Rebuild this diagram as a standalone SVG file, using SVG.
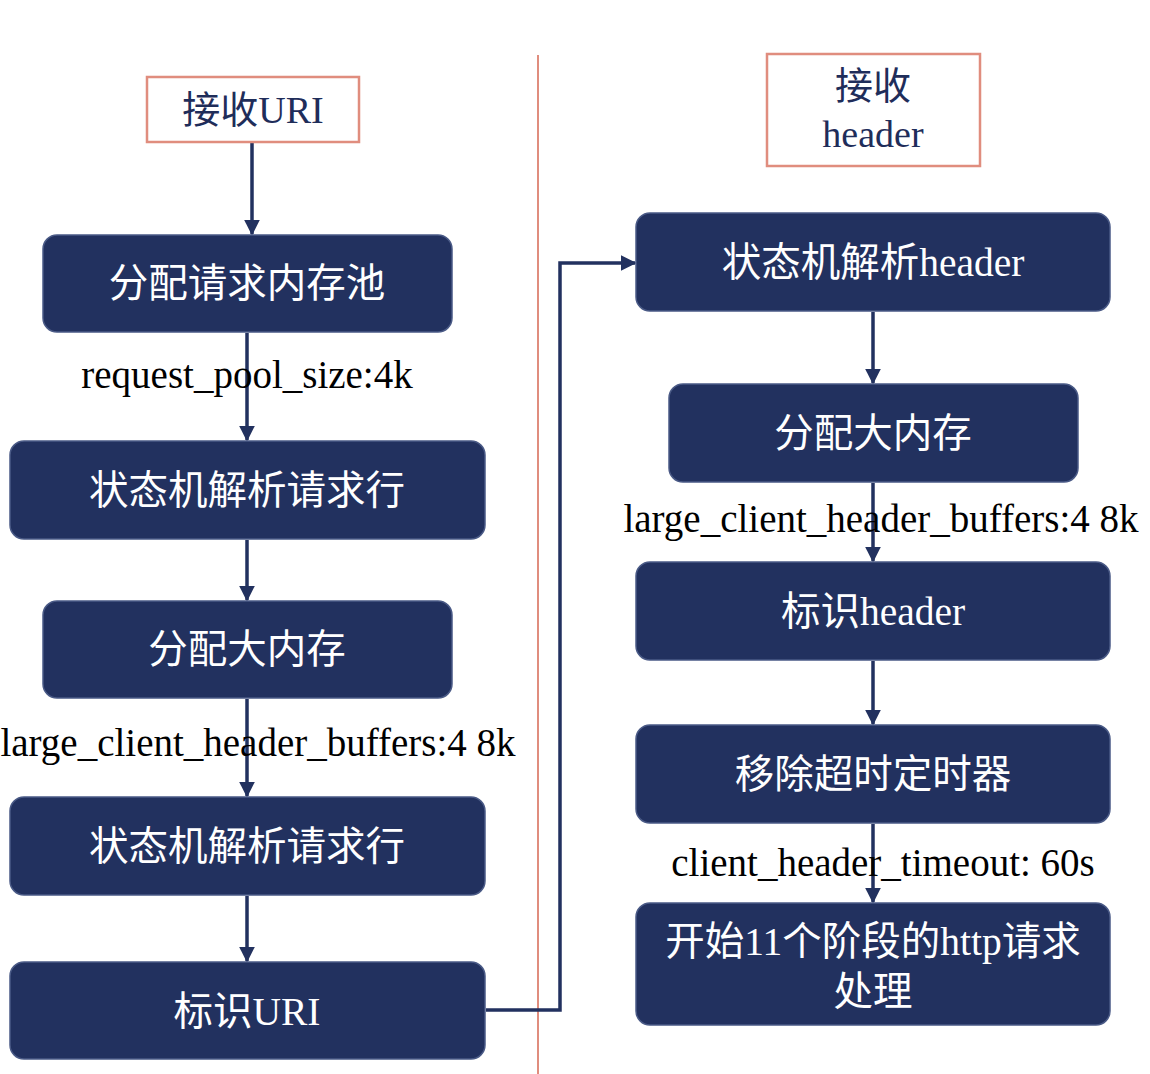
<svg xmlns="http://www.w3.org/2000/svg" width="1150" height="1074" viewBox="0 0 1150 1074">
<defs>
<style>
.box{fill:#22315F;stroke:#4A5A86;stroke-width:1.5}
.start{fill:#fff;stroke:#E08D7E;stroke-width:2.5}
.bt{fill:#fff;font-family:"Noto Sans CJK SC","Liberation Serif",serif;font-size:39.5px;text-anchor:middle}
.st{fill:#1F2D5A;font-family:"Liberation Serif","Noto Sans CJK SC",serif;font-size:38px;text-anchor:middle}
.cjk{font-family:"Noto Sans CJK SC",sans-serif}
.lat{font-family:"Liberation Serif",serif}
.lbl{fill:#000;font-family:"Liberation Serif",serif;font-size:39px;text-anchor:middle}
.ln{fill:none;stroke:#22315F;stroke-width:3.5}
</style>
<marker id="ah" viewBox="0 0 10 10" refX="9" refY="5" markerWidth="4.5" markerHeight="4.5" orient="auto" markerUnits="strokeWidth">
<path d="M0,0 L10,5 L0,10 z" fill="#22315F"/>
</marker>
</defs>
<rect width="1150" height="1074" fill="#fff"/>
<line x1="538" y1="55" x2="538" y2="1074" stroke="#E08D7E" stroke-width="2"/>
<g id="connectors">
<line class="ln" x1="252" y1="143" x2="252" y2="234" marker-end="url(#ah)"/>
<line class="ln" x1="247" y1="333" x2="247" y2="440" marker-end="url(#ah)"/>
<line class="ln" x1="247" y1="540" x2="247" y2="600" marker-end="url(#ah)"/>
<line class="ln" x1="247" y1="699" x2="247" y2="796" marker-end="url(#ah)"/>
<line class="ln" x1="247" y1="896" x2="247" y2="961" marker-end="url(#ah)"/>
<path class="ln" d="M486,1010 H560 V263 H635" marker-end="url(#ah)"/>
<line class="ln" x1="873" y1="312" x2="873" y2="383" marker-end="url(#ah)"/>
<line class="ln" x1="873" y1="483" x2="873" y2="561" marker-end="url(#ah)"/>
<line class="ln" x1="873" y1="661" x2="873" y2="724" marker-end="url(#ah)"/>
<line class="ln" x1="873" y1="824" x2="873" y2="902" marker-end="url(#ah)"/>
</g>
<g id="n_recv_uri">
<rect class="start" x="147" y="77" width="212" height="65"/>
<text class="st" x="253" y="123"><tspan class="cjk">接收</tspan>URI</text>
</g>
<g id="n_pool">
<rect class="box" x="43" y="235" width="409" height="97" rx="14"/>
<text class="bt" x="247" y="297">分配请求内存池</text>
</g>
<text class="lbl" x="247" y="388">request_pool_size:4k</text>
<g id="n_parse1">
<rect class="box" x="10" y="441" width="475" height="98" rx="14"/>
<text class="bt" x="247" y="504">状态机解析请求行</text>
</g>
<g id="n_big1">
<rect class="box" x="43" y="601" width="409" height="97" rx="14"/>
<text class="bt" x="247" y="663">分配大内存</text>
</g>
<text class="lbl" x="258" y="756">large_client_header_buffers:4 8k</text>
<g id="n_parse2">
<rect class="box" x="10" y="797" width="475" height="98" rx="14"/>
<text class="bt" x="247" y="860">状态机解析请求行</text>
</g>
<g id="n_mark_uri">
<rect class="box" x="10" y="962" width="475" height="97" rx="14"/>
<text class="bt" x="247" y="1025"><tspan class="cjk">标识</tspan><tspan class="lat">URI</tspan></text>
</g>
<g id="n_recv_header">
<rect class="start" x="767" y="54" width="213" height="112"/>
<text class="st" x="873" y="99"><tspan class="cjk">接收</tspan><tspan x="873" y="147">header</tspan></text>
</g>
<g id="n_parse_header">
<rect class="box" x="636" y="213" width="474" height="98" rx="14"/>
<text class="bt" x="873" y="276">状态机解析<tspan class="lat">header</tspan></text>
</g>
<g id="n_big2">
<rect class="box" x="669" y="384" width="409" height="98" rx="14"/>
<text class="bt" x="873" y="447">分配大内存</text>
</g>
<text class="lbl" x="881" y="532">large_client_header_buffers:4 8k</text>
<g id="n_mark_header">
<rect class="box" x="636" y="562" width="474" height="98" rx="14"/>
<text class="bt" x="873" y="625">标识<tspan class="lat">header</tspan></text>
</g>
<g id="n_timer">
<rect class="box" x="636" y="725" width="474" height="98" rx="14"/>
<text class="bt" x="873" y="788">移除超时定时器</text>
</g>
<text class="lbl" x="883" y="876">client_header_timeout: 60s</text>
<g id="n_phase">
<rect class="box" x="636" y="903" width="474" height="122" rx="14"/>
<text class="bt" x="873" y="955">开始<tspan class="lat">11</tspan>个阶段的<tspan class="lat">http</tspan>请求<tspan x="873" y="1005">处理</tspan></text>
</g>
</svg>
